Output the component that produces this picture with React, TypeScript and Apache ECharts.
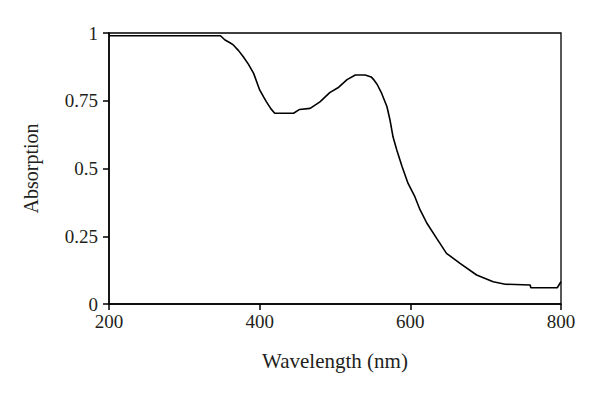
import React, { useEffect, useRef } from "react";
import * as echarts from "echarts";

const wavelengths = [200, 250, 300, 348, 354, 360, 365, 372, 378, 385, 392, 400, 405, 409, 415, 420, 445, 453, 467, 480, 493, 505, 516, 527, 540, 548, 551, 556, 562, 569, 573, 577, 582, 589, 597, 606, 613, 622, 635, 648, 666, 688, 710, 726, 759, 760, 795, 800];
const absorption = [0.99, 0.99, 0.99, 0.99, 0.974, 0.965, 0.956, 0.935, 0.913, 0.885, 0.851, 0.79, 0.765, 0.746, 0.72, 0.704, 0.704, 0.718, 0.722, 0.746, 0.78, 0.80, 0.828, 0.845, 0.845, 0.838, 0.829, 0.81, 0.777, 0.728, 0.679, 0.617, 0.568, 0.507, 0.445, 0.396, 0.347, 0.298, 0.242, 0.187, 0.15, 0.107, 0.082, 0.073, 0.07, 0.06, 0.06, 0.082];

const xTitle = "Wavelength (nm)";
const yTitle = "Absorption";
const font = "'Liberation Serif', 'DejaVu Serif', serif";

export default function App() {
  const ref = useRef<HTMLDivElement>(null);
  useEffect(() => {
    const chart = echarts.init(ref.current!, null, { renderer: "svg" });
    chart.setOption({
      animation: false,
      grid: {
        left: 109,
        right: 39,
        top: 33,
        bottom: 89,
        show: true,
        borderColor: "#000",
        borderWidth: 1.3,
        containLabel: false,
      },
      xAxis: {
        type: "value",
        min: 200,
        max: 800,
        interval: 200,
        name: xTitle,
        nameLocation: "middle",
        nameGap: 46,
        nameTextStyle: { color: "#231f20", fontSize: 21, fontFamily: font },
        axisLine: { show: true, onZero: false, lineStyle: { color: "#000", width: 1.5 } },
        axisTick: { show: true, inside: false, length: 6, lineStyle: { color: "#000", width: 1.5 } },
        axisLabel: { color: "#231f20", fontSize: 19, fontFamily: font, margin: 8 },
        splitLine: { show: false },
      },
      yAxis: {
        type: "value",
        min: 0,
        max: 1,
        interval: 0.25,
        name: yTitle,
        nameLocation: "middle",
        nameGap: 68,
        nameTextStyle: { color: "#231f20", fontSize: 20, fontFamily: font },
        axisLine: { show: true, onZero: false, lineStyle: { color: "#000", width: 1.5 } },
        axisTick: { show: true, inside: false, length: 6, lineStyle: { color: "#000", width: 1.5 } },
        axisLabel: { color: "#231f20", fontSize: 19, fontFamily: font, margin: 11 },
        splitLine: { show: false },
      },
      series: [
        {
          type: "line",
          data: wavelengths.map((w, i) => [w, absorption[i]]),
          showSymbol: false,
          lineStyle: { color: "#000", width: 1.6 },
        },
      ],
    });
    return () => chart.dispose();
  }, []);
  return <div ref={ref} style={{ width: 600, height: 393, position: "absolute", left: 0, top: 0 }} />;
}
